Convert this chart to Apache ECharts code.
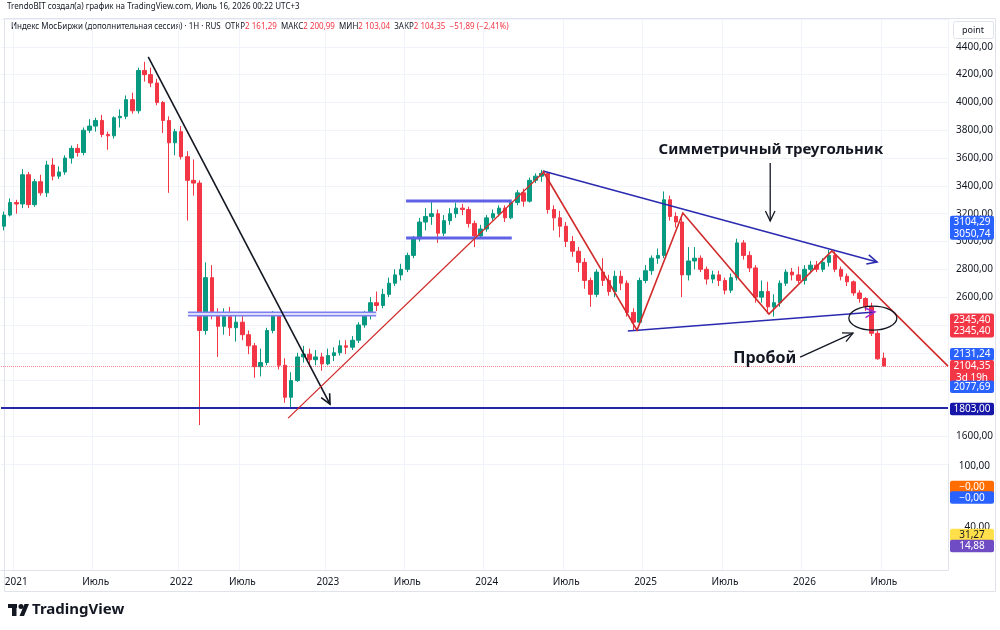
<!DOCTYPE html>
<html>
<head>
<meta charset="utf-8">
<title>Индекс МосБиржи</title>
<style>
html, body { margin: 0; padding: 0; background: #fff; }
#main { width: 1000px; height: 630px; }
</style>
</head>
<body>
<div id="main"></div>
<script src="https://cdn.jsdelivr.net/npm/echarts@6/dist/echarts.min.js"></script>
<script>
// one bar = two weeks, [open, close, low, high]
const OHLC_2020_21 = [
    [3110, 3190, 3080, 3215], [3190, 3280, 3180, 3310], [3280, 3270, 3200, 3300], [3270, 3480, 3240, 3520],
    [3480, 3265, 3240, 3500], [3265, 3430, 3250, 3450], [3430, 3350, 3330, 3480], [3350, 3550, 3320, 3580],
    [3550, 3470, 3440, 3600], [3470, 3500, 3450, 3540], [3500, 3600, 3480, 3620], [3600, 3670, 3560, 3690],
    [3670, 3640, 3610, 3700], [3640, 3800, 3620, 3820], [3800, 3830, 3780, 3880], [3830, 3870, 3790, 3890],
    [3870, 3770, 3750, 3910], [3770, 3760, 3660, 3790], [3760, 3890, 3740, 3900], [3890, 3900, 3820, 3950],
    [3900, 4020, 3880, 4050], [4020, 3940, 3920, 4070], [3940, 4230, 3920, 4250], [4230, 4200, 4150, 4292],
    [4200, 4140, 4110, 4250], [4140, 4000, 3980, 4170], [4000, 3870, 3780, 4010], [3870, 3710, 3350, 3900],
    [3710, 3790, 3620, 3810]
];
const OHLC_2022 = [
    [3790, 3610, 3590, 3830], [3610, 3440, 3150, 3650], [3440, 3420, 3330, 3590], [3420, 2360, 1680, 3440],
    [2360, 2740, 2330, 2850], [2740, 2470, 2440, 2830], [2470, 2390, 2170, 2520], [2390, 2460, 2330, 2520],
    [2460, 2380, 2320, 2530], [2380, 2420, 2280, 2480], [2420, 2330, 2290, 2470], [2330, 2250, 2190, 2360],
    [2250, 2100, 2020, 2270], [2100, 2130, 2030, 2230], [2130, 2360, 2110, 2380], [2360, 2470, 2340, 2500],
    [2470, 2110, 2080, 2490], [2110, 1880, 1840, 2160], [1880, 2000, 1800, 2060], [2000, 2170, 1990, 2200],
    [2170, 2190, 2130, 2250], [2190, 2150, 2100, 2230], [2150, 2170, 2110, 2220], [2170, 2120, 2070, 2200]
];
const OHLC_2023 = [
    [2120, 2180, 2110, 2230], [2180, 2200, 2140, 2240], [2200, 2250, 2180, 2290], [2250, 2240, 2190, 2290],
    [2240, 2290, 2220, 2320], [2290, 2400, 2270, 2420], [2400, 2470, 2380, 2500], [2470, 2560, 2440, 2600],
    [2560, 2540, 2500, 2640], [2540, 2620, 2520, 2660], [2620, 2700, 2600, 2740], [2700, 2760, 2680, 2800],
    [2760, 2800, 2720, 2840], [2800, 2900, 2780, 2920], [2900, 3020, 2880, 3040], [3020, 3140, 3000, 3170],
    [3140, 3180, 3080, 3240], [3180, 3200, 3120, 3290], [3200, 3060, 2990, 3230], [3060, 3150, 3040, 3190],
    [3150, 3200, 3120, 3240], [3200, 3240, 3170, 3280], [3240, 3230, 3190, 3270], [3230, 3130, 3100, 3250],
    [3130, 3040, 2960, 3150], [3040, 3090, 3020, 3120]
];
const OHLC_2024 = [
    [3090, 3170, 3070, 3190], [3170, 3200, 3150, 3230], [3200, 3240, 3180, 3260], [3240, 3170, 3140, 3260],
    [3170, 3280, 3160, 3300], [3280, 3350, 3260, 3370], [3350, 3290, 3250, 3380], [3290, 3440, 3280, 3460],
    [3440, 3470, 3420, 3490], [3470, 3490, 3430, 3515], [3490, 3230, 3200, 3500], [3230, 3170, 3080, 3260],
    [3170, 3110, 3030, 3220], [3110, 3000, 2960, 3140], [3000, 2930, 2890, 3040], [2930, 2850, 2780, 2960],
    [2850, 2720, 2660, 2880], [2720, 2620, 2530, 2740], [2620, 2780, 2600, 2800], [2780, 2720, 2680, 2880],
    [2720, 2640, 2610, 2760], [2640, 2750, 2600, 2790], [2750, 2700, 2650, 2790], [2700, 2490, 2460, 2720],
    [2490, 2420, 2360, 2520], [2420, 2720, 2400, 2740]
];
const OHLC_2025 = [
    [2720, 2790, 2700, 2830], [2790, 2880, 2760, 2900], [2880, 2900, 2840, 2950], [2900, 3300, 2880, 3360],
    [3300, 3180, 3150, 3330], [3180, 3140, 3100, 3210], [3140, 2760, 2600, 3170], [2760, 2860, 2720, 2960],
    [2860, 2880, 2800, 2960], [2880, 2800, 2780, 2900], [2800, 2730, 2690, 2820], [2730, 2760, 2700, 2790],
    [2760, 2720, 2680, 2790], [2720, 2650, 2620, 2740], [2650, 2740, 2630, 2770], [2740, 2990, 2720, 3020],
    [2990, 2900, 2870, 3010], [2900, 2810, 2780, 2930], [2810, 2600, 2560, 2830], [2600, 2640, 2560, 2720],
    [2640, 2530, 2480, 2710], [2530, 2560, 2460, 2620], [2560, 2700, 2530, 2720], [2700, 2780, 2680, 2800],
    [2780, 2760, 2720, 2810], [2760, 2720, 2700, 2820]
];
const OHLC_2026 = [
    [2720, 2800, 2690, 2830], [2800, 2830, 2770, 2860], [2830, 2800, 2780, 2860], [2800, 2850, 2780, 2880],
    [2850, 2900, 2820, 2940], [2900, 2800, 2780, 2930], [2800, 2750, 2720, 2820], [2750, 2710, 2680, 2770],
    [2710, 2630, 2610, 2720], [2630, 2590, 2560, 2650], [2590, 2530, 2500, 2600], [2530, 2340, 2320, 2560],
    [2340, 2156.24, 2150, 2360], [2161.29, 2104.35, 2103.04, 2200.99]
];

const FIRST_BAR = Date.UTC(2020, 11, 4);
const HALT_BARS = ['2022-03-11', '2022-03-25'];   // exchange closed
const BAR_COUNT = 155;                            // incl. empty space on the right

// drawings: [bar index, price]
const DOWN_ARROW = [[23.6, 4328], [53.35, 1830]];
const UPTREND = [[46.5, 1730], [88.5, 3507]];
const RANGE_2022 = [[30.1, 2478], [60.9, 2478]];
const RANGE_2023_TOP = [[65.8, 3291], [83.1, 3291]];
const RANGE_2023_BOTTOM = [[65.8, 3025], [83.1, 3025]];
const TRIANGLE_UPPER = [[88.2, 3507], [142.9, 2852]];
const TRIANGLE_LOWER = [[102.1, 2356], [142.55, 2493]];
const ZIGZAG = [[88.2, 3507], [103.6, 2363], [111.1, 3205], [125.2, 2478], [135.5, 2932], [154.5, 2104]];
const BREAK_CIRCLE = [142.2, 2449];
const TRIANGLE_TEXT = [125.5, 3659];
const TRIANGLE_POINTER = [[125.4, 3565], [125.4, 3148]];
const BREAK_TEXT = [124.5, 2161];
const BREAK_POINTER = [[130.3, 2169], [138.95, 2341]];
const SUPPORT = 1803;

const PRICE_TAGS = [
    {lines: ['3104,29', '3050,74'], at: 3077.5, shift: -3, color: '#2962ff'},
    {lines: ['2345,40', '2345,40'], at: 2345.4, shift: -7, color: '#f23645'},
    {lines: ['2131,24'], at: 2131.24, shift: -8, color: '#2962ff'},
    {lines: ['2104,35', '3d 19h'], at: 2104.35, shift: 6, color: '#f23645'},
    {lines: ['2077,69'], at: 2077.69, shift: 17, color: '#2962ff'},
    {lines: ['1803,00'], at: 1803, shift: 1, color: '#1616a8'}
];

const UP = '#089981';
const DOWN = '#f23645';
const GRID_LINE = '#f0f3fa';
const TEXT = '#131722';
const FONT = '"Noto Sans", sans-serif';

const BARS = [].concat(OHLC_2020_21, OHLC_2022, OHLC_2023, OHLC_2024, OHLC_2025, OHLC_2026);

function buildDates() {
    const dates = [];
    let t = FIRST_BAR;
    while (dates.length < BAR_COUNT) {
        const iso = new Date(t).toISOString().slice(0, 10);
        if (!HALT_BARS.includes(iso)) {
            dates.push(iso);
        }
        t += 14 * 86400000;
    }
    return dates;
}
const DATES = buildDates();

function month(i) {
    return +DATES[i].slice(5, 7);
}

function isPeriodStart(i) {
    const m = month(i);
    return (m === 1 || m === 7) && i > 0 && month(i - 1) !== m;
}

function fmtRu(v) {
    const s = Math.abs(v).toFixed(2).split('.');
    const int = s[0].replace(/\B(?=(\d{3})+(?!\d))/g, ' ');
    return (v < 0 ? '−' : '') + int + ',' + s[1];
}

const HIDDEN_TICKS = [1400, 1800, 2000, 2200, 2400, 4600];

let myChart = echarts.init(document.getElementById('main'));

function renderDrawings(params, api) {
    const children = [];
    const pt = (p) => api.coord(p);
    const line = (pts, stroke, width) => {
        children.push({
            type: 'polyline',
            shape: {points: pts.map(pt)},
            style: {stroke: stroke, lineWidth: width, fill: 'none'}
        });
    };
    const chevron = (seg, stroke, width) => {
        const a = pt(seg[0]);
        const b = pt(seg[1]);
        const ang = Math.atan2(b[1] - a[1], b[0] - a[0]);
        const len = 11, spread = 0.45;
        children.push({
            type: 'polyline',
            shape: {points: [
                [b[0] - len * Math.cos(ang - spread), b[1] - len * Math.sin(ang - spread)],
                b,
                [b[0] - len * Math.cos(ang + spread), b[1] - len * Math.sin(ang + spread)]
            ]},
            style: {stroke: stroke, lineWidth: width, fill: 'none'}
        });
    };
    const label = (p, text, size) => {
        const c = pt(p);
        children.push({
            type: 'text',
            x: c[0], y: c[1],
            style: {
                text: text, fill: TEXT, align: 'center', verticalAlign: 'middle',
                fontSize: size, fontWeight: 'bold', fontFamily: FONT
            }
        });
    };

    // 2022 range level (fat outlined bar)
    line(RANGE_2022, '#7d80ee', 5);
    line(RANGE_2022, '#dedffb', 2);
    line(RANGE_2023_TOP, '#5f62e6', 3);
    line(RANGE_2023_BOTTOM, '#5f62e6', 3);

    line(DOWN_ARROW, '#131722', 1.6);
    chevron(DOWN_ARROW, '#131722', 1.6);
    line(UPTREND, '#d12b2b', 1.3);

    line(TRIANGLE_UPPER, '#2a2ab0', 1.5);
    chevron(TRIANGLE_UPPER, '#2a2ab0', 1.5);
    line(TRIANGLE_LOWER, '#2a2ab0', 1.5);
    chevron(TRIANGLE_LOWER, '#9b2bd6', 1.5);
    line(ZIGZAG, '#d12b2b', 1.6);

    const c = pt(BREAK_CIRCLE);
    children.push({
        type: 'ellipse',
        shape: {cx: c[0], cy: c[1], rx: 24, ry: 12},
        style: {stroke: TEXT, lineWidth: 1.3, fill: 'none'}
    });

    label(TRIANGLE_TEXT, 'Симметричный треугольник', 15);
    line(TRIANGLE_POINTER, TEXT, 1.3);
    chevron(TRIANGLE_POINTER, TEXT, 1.3);
    label(BREAK_TEXT, 'Пробой', 16);
    line(BREAK_POINTER, TEXT, 1.3);
    chevron(BREAK_POINTER, TEXT, 1.3);

    return {type: 'group', children: children};
}

const last = BARS[BARS.length - 1];
const prevClose = BARS[BARS.length - 2][1];
const change = last[1] - prevClose;

// legend row: plain text pieces laid out one after another
const LEGEND_FONT_SIZE = 8;
const measureCtx = document.createElement('canvas').getContext('2d');
measureCtx.font = LEGEND_FONT_SIZE + 'px ' + FONT;
function legendPieces(x0, y) {
    const parts = [
        ['Индекс МосБиржи (дополнительная сессия) · 1H · RUS  ОТКР', TEXT], [fmtRu(last[0]), DOWN],
        ['  МАКС', TEXT], [fmtRu(last[3]), DOWN],
        ['  МИН', TEXT], [fmtRu(last[2]), DOWN],
        ['  ЗАКР', TEXT], [fmtRu(last[1]), DOWN],
        ['  ' + fmtRu(change) + ' (' + fmtRu(change / prevClose * 100) + '%)', DOWN]
    ];
    const out = [];
    let x = x0;
    for (let p of parts) {
        out.push({type: 'text', x: x, y: y,
            style: {text: p[0], fill: p[1], fontSize: LEGEND_FONT_SIZE, fontFamily: FONT}});
        x += measureCtx.measureText(p[0]).width;
    }
    return out;
}

const xLabel = {
    interval: (i) => isPeriodStart(i),
    formatter: (v) => (+v.slice(5, 7) === 1 ? v.slice(0, 4) : 'Июль'),
    color: TEXT, fontSize: 10, fontFamily: FONT, margin: 7
};
const xSplit = {show: true, interval: (i) => isPeriodStart(i), lineStyle: {color: GRID_LINE}};

const option = {
    animation: false,
    backgroundColor: '#fff',
    grid: [
        {left: 1, right: 52, top: 19, height: 445, outerBoundsMode: 'none'},
        {left: 1, right: 52, top: 464, height: 106, outerBoundsMode: 'none'}
    ],
    xAxis: [
        {type: 'category', gridIndex: 0, data: DATES, axisLine: {show: false}, axisTick: {show: false},
            axisLabel: {show: false}, splitLine: xSplit},
        {type: 'value', gridIndex: 0, min: -0.5, max: BAR_COUNT - 0.5, show: false},
        {type: 'category', gridIndex: 1, data: DATES, axisLine: {lineStyle: {color: '#e0e3eb'}},
            axisTick: {show: false}, axisLabel: xLabel, splitLine: xSplit}
    ],
    yAxis: [
        {type: 'value', gridIndex: 0, position: 'right', min: 1400, max: 4600, interval: 200,
            axisLine: {show: true, lineStyle: {color: '#e0e3eb'}}, axisTick: {show: false},
            splitLine: {lineStyle: {color: GRID_LINE}},
            axisLabel: {
                color: TEXT, fontSize: 10, fontFamily: FONT, margin: 8,
                formatter: (v) => (HIDDEN_TICKS.includes(v) ? '' : v + ',00')
            }},
        {type: 'value', gridIndex: 1, position: 'right', min: 0, max: 1,
            axisLine: {show: true, lineStyle: {color: '#e0e3eb'}}, axisTick: {show: false},
            axisLabel: {show: false}, splitLine: {show: false}}
    ],
    series: [
        {
            type: 'candlestick',
            xAxisIndex: 0, yAxisIndex: 0,
            data: BARS,
            barWidth: 4,
            itemStyle: {color: UP, color0: DOWN, borderColor: UP, borderColor0: DOWN, borderWidth: 1},
            markLine: {
                silent: true, symbol: 'none', label: {show: false},
                data: [
                    {yAxis: SUPPORT, lineStyle: {color: '#2626a8', width: 2, type: 'solid'}},
                    {yAxis: last[1], lineStyle: {color: DOWN, width: 1, type: 'dotted', opacity: 0.6}}
                ]
            }
        },
        {
            type: 'custom',
            xAxisIndex: 1, yAxisIndex: 0,
            data: [[0, 3000]],
            silent: true,
            z: 5,
            renderItem: renderDrawings
        }
    ],
    graphic: [
        {type: 'text', x: 7, y: 3, style: {text: 'TrendoBIT создал(а) график на TradingView.com, Июль 16, 2026 00:22 UTC+3',
            fill: TEXT, fontSize: 8, fontFamily: FONT}},
        {type: 'rect', shape: {x: 4.5, y: 18.5, width: 991, height: 573}, style: {stroke: '#e0e3eb', fill: 'none'}, z: -1},
        {type: 'rect', shape: {x: 953.5, y: 21.5, width: 40, height: 17, r: 2}, style: {stroke: '#e0e3eb', fill: '#fff'}},
        {type: 'text', x: 973, y: 30, style: {text: 'point', fill: TEXT, fontSize: 9, fontFamily: FONT, align: 'center', verticalAlign: 'middle'}},
        // TradingView logo
        {type: 'rect', shape: {x: 8, y: 604, width: 9, height: 4}, style: {fill: TEXT}},
        {type: 'rect', shape: {x: 12, y: 604, width: 4.5, height: 12}, style: {fill: TEXT}},
        {type: 'circle', shape: {cx: 21, cy: 606.5, r: 2.5}, style: {fill: TEXT}},
        {type: 'polygon', shape: {points: [[24.5, 604], [29, 604], [24, 616], [19.5, 616]]}, style: {fill: TEXT}},
        {type: 'text', x: 32, y: 610, style: {text: 'TradingView', fill: TEXT, fontSize: 15, fontWeight: 'bold', fontFamily: FONT, verticalAlign: 'middle'}}
    ].concat(legendPieces(11, 23))
};

myChart.setOption(option);

// price tags on the right scale
function tagGraphic(lines, cy, color, textColor) {
    const h = 11.5 * lines.length + 1;
    const out = [{
        type: 'rect', shape: {x: 950, y: cy - h / 2, width: 44, height: h, r: 2},
        style: {fill: color}, z: 20
    }];
    lines.forEach((t, k) => {
        out.push({
            type: 'text', x: 972, y: cy - h / 2 + 6.5 + k * 11.5, z: 21,
            style: {text: t, fill: textColor || '#fff', fontSize: 10, fontFamily: FONT, align: 'center', verticalAlign: 'middle'}
        });
    });
    return out;
}

let tags = [];
for (let tag of PRICE_TAGS) {
    const y = myChart.convertToPixel({yAxisIndex: 0}, tag.at) + tag.shift;
    tags = tags.concat(tagGraphic(tag.lines, y, tag.color));
}
// collapsed indicator panes
tags.push({type: 'text', x: 990, y: 466, z: 21, style: {text: '100,00', fill: TEXT, fontSize: 10, fontFamily: FONT, align: 'right', verticalAlign: 'middle'}});
tags.push({type: 'text', x: 990, y: 527, z: 19, style: {text: '40,00', fill: TEXT, fontSize: 10, fontFamily: FONT, align: 'right', verticalAlign: 'middle'}});
tags = tags.concat(tagGraphic(['−0,00'], 487, '#ff6d00'));
tags = tags.concat(tagGraphic(['−0,00'], 497.5, '#2962ff'));
tags = tags.concat(tagGraphic(['31,27'], 535, '#ffe04a', TEXT));
tags = tags.concat(tagGraphic(['14,88'], 546, '#6f4bc4'));

myChart.setOption({graphic: option.graphic.concat(tags)});
</script>
</body>
</html>
